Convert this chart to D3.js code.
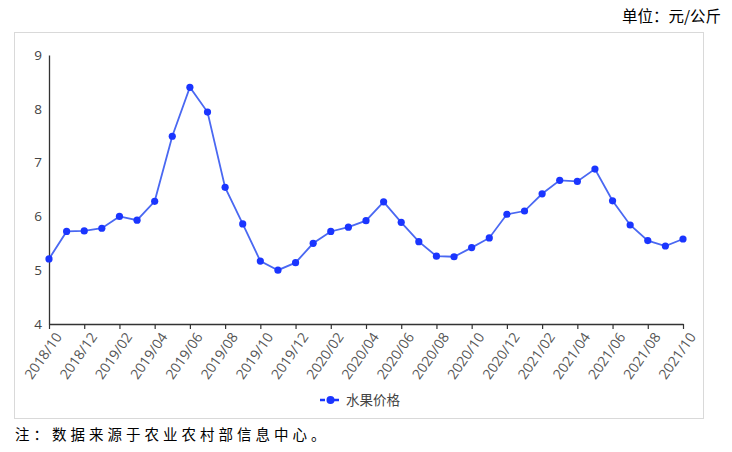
<!DOCTYPE html>
<html><head><meta charset="utf-8">
<script src="https://cdn.jsdelivr.net/npm/d3@7"></script>
<style>
body{margin:0;background:#fff;}
svg{display:block;}
</style></head>
<body>
<svg id="c" width="732" height="452"></svg>
<script>
const months = ["2018/10","2018/11","2018/12","2019/01","2019/02","2019/03","2019/04","2019/05","2019/06","2019/07","2019/08","2019/09","2019/10","2019/11","2019/12","2020/01","2020/02","2020/03","2020/04","2020/05","2020/06","2020/07","2020/08","2020/09","2020/10","2020/11","2020/12","2021/01","2021/02","2021/03","2021/04","2021/05","2021/06","2021/07","2021/08","2021/09","2021/10"];
const fruitPrice = [5.21,5.72,5.73,5.78,6.00,5.93,6.28,7.49,8.40,7.94,6.54,5.86,5.17,5.00,5.14,5.50,5.72,5.80,5.92,6.27,5.89,5.53,5.26,5.25,5.42,5.60,6.04,6.10,6.42,6.67,6.65,6.88,6.29,5.84,5.55,5.45,5.58];
const yTicks = [4,5,6,7,8,9];
const xTickLabels = months.filter((d,i)=>i%2===0);
const seriesName = "水果价格";
const unitText = "单位：元/公斤";
const noteText = "注：数据来源于农业农村部信息中心。";

const svg = d3.select("#c");
const cjk = "'Noto Sans CJK SC', sans-serif";
const lat = "'Open Sans', 'Noto Sans', sans-serif";

// frame
svg.append("rect").attr("x",14.5).attr("y",32.5).attr("width",689).attr("height",386)
  .attr("fill","none").attr("stroke","#d9d9d9").attr("stroke-width",1);

svg.append("text").attr("x",721).attr("y",22).attr("text-anchor","end")
  .attr("font-family",cjk).attr("font-size",15.5).attr("fill","#000").text(unitText);

svg.append("text").attr("x",15).attr("y",440)
  .attr("font-family",cjk).attr("font-size",14.5).attr("letter-spacing","4px").attr("fill","#000").text(noteText);

const x = d3.scalePoint().domain(months).range([49,683]);
const y = d3.scaleLinear().domain([4,9]).range([324,55]);

// y axis
const ya = svg.append("g").attr("transform","translate(49,0)")
  .call(d3.axisLeft(y).tickValues(yTicks).tickSize(0).tickPadding(7).tickFormat(d3.format("d")));
ya.select(".domain").attr("stroke","#333").attr("stroke-width",1.3);
ya.selectAll("text").attr("font-family",lat).attr("font-size",13.5).attr("fill","#444");

// x axis
const xa = svg.append("g").attr("transform","translate(0,324)")
  .call(d3.axisBottom(x).tickValues(xTickLabels).tickSize(5).tickSizeOuter(0));
xa.select(".domain").attr("stroke","#333").attr("stroke-width",1.3);
xa.selectAll(".tick line").attr("stroke","#333").attr("stroke-width",1.2);
xa.selectAll("text").attr("font-family",lat).attr("font-size",14).attr("fill","#555")
  .attr("text-anchor","end").attr("dy","0.35em")
  .attr("transform","translate(9,10) rotate(-55)").attr("x",0).attr("y",0);

// line
const line = d3.line().x((d,i)=>x(months[i])).y(d=>y(d));
svg.append("path").datum(fruitPrice).attr("d",line).attr("fill","none")
  .attr("stroke","#4a68f2").attr("stroke-width",1.8);
svg.append("g").selectAll("circle").data(fruitPrice).join("circle")
  .attr("cx",(d,i)=>x(months[i])).attr("cy",d=>y(d)).attr("r",3.6).attr("fill","#1a35ff");

// legend
const lg = svg.append("g");
lg.append("line").attr("x1",320).attr("x2",341).attr("y1",400).attr("y2",400).attr("stroke","#1a35ff").attr("stroke-width",2.5).attr("stroke-dasharray","5,2");
lg.append("circle").attr("cx",330.5).attr("cy",400).attr("r",4).attr("fill","#1a35ff");
lg.append("text").attr("x",346).attr("y",405).attr("font-family",cjk).attr("font-size",13.5).attr("fill","#444").text(seriesName);
</script>
</body></html>
